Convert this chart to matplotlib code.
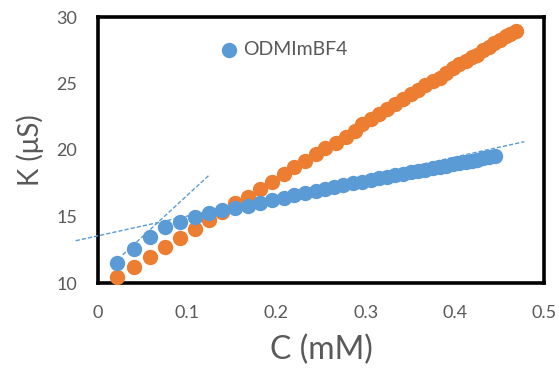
import matplotlib
matplotlib.use("Agg")
import matplotlib.pyplot as plt
import numpy as np

# ---- data ----
blue_label = "ODMImBF4"
blue_x = [0.0213, 0.040, 0.0583, 0.0755, 0.0916, 0.1087, 0.124, 0.139, 0.154, 0.168,
          0.182, 0.195, 0.208, 0.220, 0.232, 0.244, 0.255, 0.265, 0.275, 0.286,
          0.296, 0.306, 0.315, 0.324, 0.333, 0.342, 0.351, 0.359, 0.367, 0.375,
          0.383, 0.390, 0.398, 0.405, 0.412, 0.419, 0.425, 0.432, 0.438, 0.445]
blue_y = [11.48, 12.58, 13.46, 14.23, 14.61, 14.96, 15.24, 15.49, 15.62, 15.79,
          16.04, 16.24, 16.41, 16.62, 16.79, 16.94, 17.09, 17.22, 17.35, 17.49,
          17.62, 17.75, 17.86, 17.98, 18.10, 18.21, 18.33, 18.43, 18.53, 18.64,
          18.74, 18.83, 18.93, 19.02, 19.11, 19.20, 19.28, 19.37, 19.44, 19.54]

orange_x = [0.0213, 0.040, 0.0583, 0.0755, 0.0916, 0.1087, 0.124, 0.139, 0.154, 0.168,
            0.182, 0.195, 0.208, 0.220, 0.232, 0.244, 0.255, 0.267, 0.278, 0.288,
            0.296, 0.306, 0.315, 0.324, 0.333, 0.342, 0.351, 0.359, 0.367, 0.375,
            0.383, 0.390, 0.398, 0.405, 0.412, 0.419, 0.425, 0.432, 0.438, 0.444,
            0.451, 0.457, 0.462, 0.469]
orange_y = [10.43, 11.23, 11.98, 12.73, 13.41, 14.08, 14.74, 15.34, 15.99, 16.49,
            17.05, 17.62, 18.17, 18.70, 19.17, 19.67, 20.12, 20.55, 21.00, 21.43,
            21.92, 22.36, 22.74, 23.11, 23.48, 23.86, 24.22, 24.50, 24.87, 25.20,
            25.38, 25.81, 26.14, 26.43, 26.72, 27.01, 27.12, 27.52, 27.78, 28.02,
            28.30, 28.54, 28.72, 28.95]

# trend lines (intercept, slope, x-range)
trend1_int, trend1_slope, trend1_x = 10.40, 61.9, [0.0277, 0.1256]
trend2_int, trend2_slope, trend2_x = 13.55, 14.8, [-0.025, 0.478]

x_ticks = [0, 0.1, 0.2, 0.3, 0.4, 0.5]
x_tick_labels = ["0", "0.1", "0.2", "0.3", "0.4", "0.5"]
y_ticks = [10, 15, 20, 25, 30]

BLUE = "#5B9BD5"
ORANGE = "#ED7D31"
GRAY = "#595959"

plt.rcParams["font.family"] = ["Lato", "DejaVu Sans"]

fig = plt.figure(figsize=(5.59, 3.70), dpi=100)
ax = fig.add_axes([98/559, 1-283/370, (544-98)/559, (283-17)/370])

ax.scatter(orange_x, orange_y, s=122, color=ORANGE, zorder=3, linewidths=0, clip_on=False)
ax.scatter(blue_x, blue_y, s=122, color=BLUE, zorder=3, linewidths=0, clip_on=False,
           label=blue_label)

for icpt, slp, xr in [(trend1_int, trend1_slope, trend1_x), (trend2_int, trend2_slope, trend2_x)]:
    xs = np.array(xr)
    ax.plot(xs, icpt + slp * xs, ls=(0, (3, 1.5)), color=BLUE, lw=1.0, zorder=4, clip_on=False)

ax.set_xlim(0, 0.5)
ax.set_ylim(10, 30)
ax.set_xticks(x_ticks)
ax.set_xticklabels(x_tick_labels)
ax.set_yticks(y_ticks)
ax.tick_params(axis="both", length=0, labelsize=13, colors=GRAY)
ax.tick_params(axis="x", pad=16)
ax.tick_params(axis="y", pad=15)

for sp in ax.spines.values():
    sp.set_color("black")
    sp.set_linewidth(2.6)

ax.set_xlabel("C (mM)", fontsize=23, color=GRAY, labelpad=10)
ax.set_ylabel("K (\u03bcS)", fontsize=20, color=GRAY, labelpad=9)

leg = ax.legend(loc="center left", bbox_to_anchor=((221 - 98) / 446, 0.876), frameon=False,
                fontsize=14, handlelength=0.85, handletextpad=0.3, borderpad=0,
                borderaxespad=0)
for t in leg.get_texts():
    t.set_color(GRAY)

fig.savefig("out.png", dpi=100)
